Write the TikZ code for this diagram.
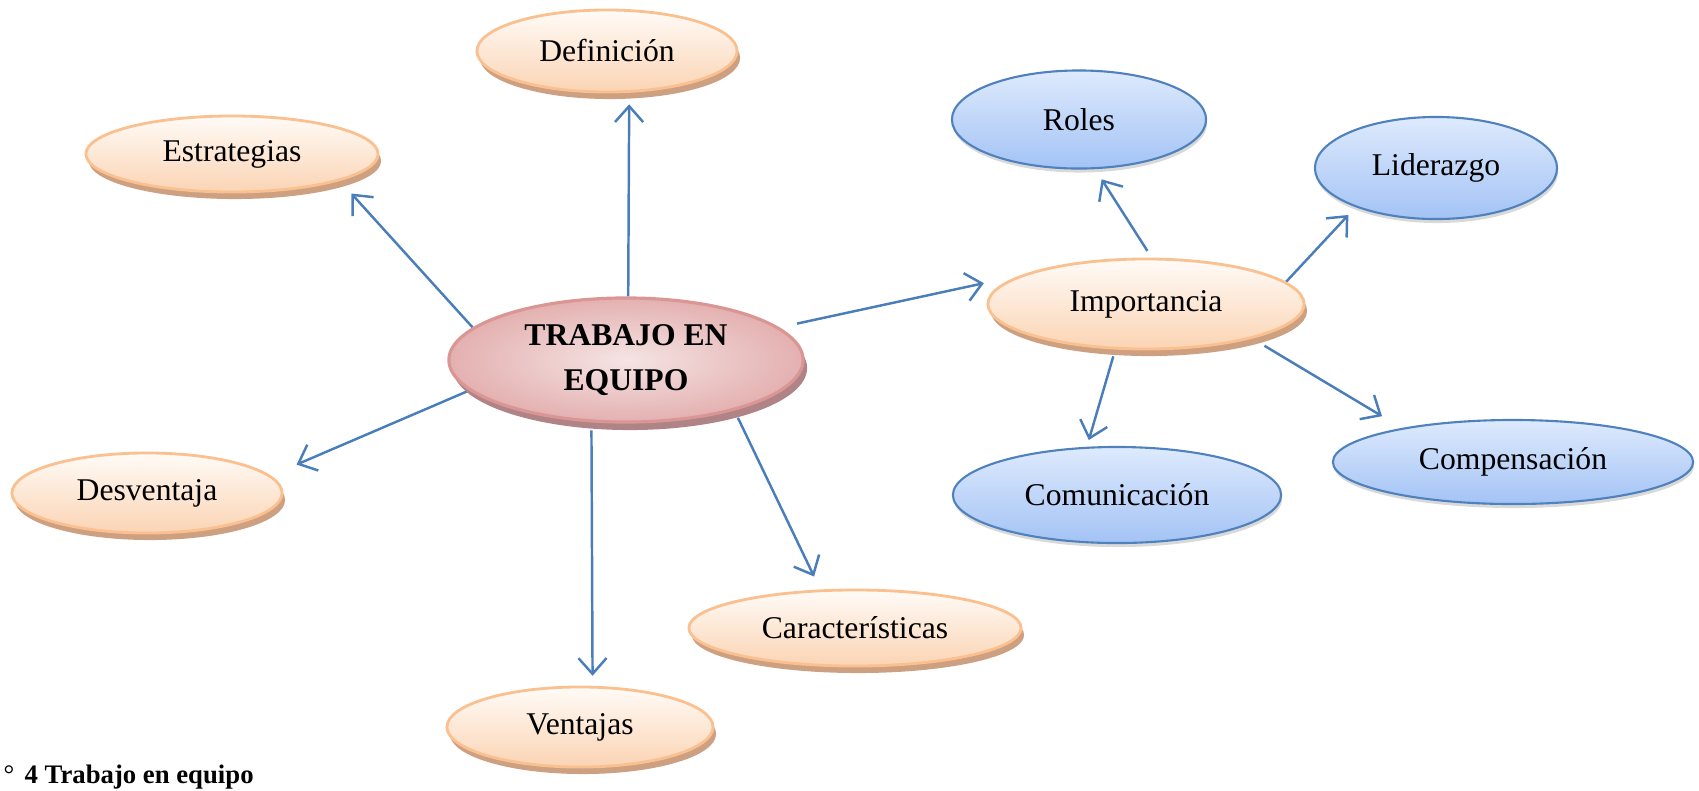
\documentclass[tikz,border=0pt]{standalone}
\usepackage{fontspec}
\setmainfont{Liberation Serif}
\usepackage{tikz}
\definecolor{peachline}{RGB}{250,192,144}
\definecolor{peachtop}{RGB}{255,251,247}
\definecolor{peachbottom}{RGB}{251,212,180}
\definecolor{peachbase}{RGB}{204,160,128}
\definecolor{pinkline}{RGB}{217,150,148}
\definecolor{pinklight}{RGB}{245,228,228}
\definecolor{pinkdark}{RGB}{228,176,176}
\definecolor{pinkbase}{RGB}{176,132,134}
\definecolor{blueline}{RGB}{79,129,189}
\definecolor{bluetop}{RGB}{222,234,253}
\definecolor{bluebottom}{RGB}{163,195,245}
\definecolor{linkblue}{RGB}{74,126,187}
\usetikzlibrary{arrows.meta}
\usetikzlibrary{shapes.geometric}
\usetikzlibrary{shadows}
\pgfdeclarelayer{edgelayer}
\pgfdeclarelayer{nodelayer}
\pgfsetlayers{edgelayer,nodelayer,main}
\tikzstyle{topic}=[ellipse,inner sep=0pt,draw=peachline,line width=0.8pt,top color=peachtop,bottom color=peachbottom,general shadow={fill=peachbase,shadow xshift=0.03cm,shadow yshift=-0.07cm},font=\fontsize{9}{11}\selectfont]
\tikzstyle{subtopic}=[ellipse,inner sep=0pt,draw=blueline,line width=0.6pt,top color=bluetop,bottom color=bluebottom,drop shadow={shadow xshift=0.01cm,shadow yshift=-0.04cm,opacity=0.3},font=\fontsize{9}{11}\selectfont]
\tikzstyle{core}=[ellipse,inner sep=0pt,align=center,draw=pinkline,line width=0.9pt,inner color=pinklight,outer color=pinkdark,general shadow={fill=pinkbase,shadow xshift=0.04cm,shadow yshift=-0.08cm},font=\fontsize{9}{12.9}\selectfont\bfseries]
\tikzstyle{link}=[draw=linkblue,line width=0.7pt,-{Straight Barb[length=4.5pt,width=8pt]}]

\begin{document}
\begin{tikzpicture}[x=0.01cm,y=-0.01cm]
        \useasboundingbox (0,0) rectangle (1699,790);
        \begin{pgfonlayer}{nodelayer}
            \node [style = core, minimum width=3.54cm, minimum height=1.24cm] (core) at (626, 360) {TRABAJO EN\\EQUIPO};
            \node [style = topic, minimum width=2.60cm, minimum height=0.82cm] (def) at (607, 51) {Definición};
            \node [style = topic, minimum width=2.92cm, minimum height=0.76cm] (estr) at (232, 154) {Estrategias};
            \node [style = topic, minimum width=2.70cm, minimum height=0.80cm] (desv) at (147, 493) {Desventaja};
            \node [style = topic, minimum width=2.66cm, minimum height=0.80cm] (vent) at (580, 727) {Ventajas};
            \node [style = topic, minimum width=3.32cm, minimum height=0.76cm] (car) at (855, 628) {Características};
            \node [style = topic, minimum width=3.16cm, minimum height=0.90cm] (imp) at (1146, 304) {Importancia};
            \node [style = subtopic, minimum width=2.54cm, minimum height=0.98cm] (roles) at (1079, 119.5) {Roles};
            \node [style = subtopic, minimum width=2.42cm, minimum height=1.02cm] (lid) at (1436, 168) {Liderazgo};
            \node [style = subtopic, minimum width=3.28cm, minimum height=0.96cm] (com) at (1117, 495) {Comunicación};
            \node [style = subtopic, minimum width=3.60cm, minimum height=0.84cm] (comp) at (1513, 462) {Compensación};
            \node [anchor=base west, inner sep=0pt, font=\fontsize{7.6}{9}\selectfont] (mark) at (3, 783) {°};
            \node [anchor=base west, inner sep=0pt, font=\fontsize{7.6}{9}\selectfont\bfseries] (caption) at (24, 783) {4 Trabajo en equipo};
        \end{pgfonlayer}

        \begin{pgfonlayer}{edgelayer}
            \draw [style = link, shorten >=0.115cm] (core.88.2) to (def.-62.6);
            \draw [style = link, shorten >=0.17cm] (core.168.2) to (estr.-14.5);
            \draw [style = link, shorten >=0.28cm] (core.191.7) to (desv.8.7);
            \draw [style = link, shorten <=0.08cm, shorten >=0.10cm] (core.-119.2) to (vent.73.2);
            \draw [style = link, shorten <=0.08cm, shorten >=0.143cm] (core.-25.3) to (car.132.1);
            \draw [style = link, shorten <=0.18cm, shorten >=0.38cm] (core.12.6) to (imp.167.5);
            \draw [style = link, shorten <=0.08cm, shorten >=0.12cm] (imp.83.6) to (roles.-72.2);
            \draw [style = link, shorten >=0.106cm] (imp.9.6) to (lid.-154.2);
            \draw [style = link, shorten <=0.07cm, shorten >=0.07cm] (imp.-124.2) to (com.122.4);
            \draw [style = link, shorten <=0.14cm, shorten >=0.23cm] (imp.-18.1) to (comp.163);
        \end{pgfonlayer}
    \end{tikzpicture}
\end{document}
